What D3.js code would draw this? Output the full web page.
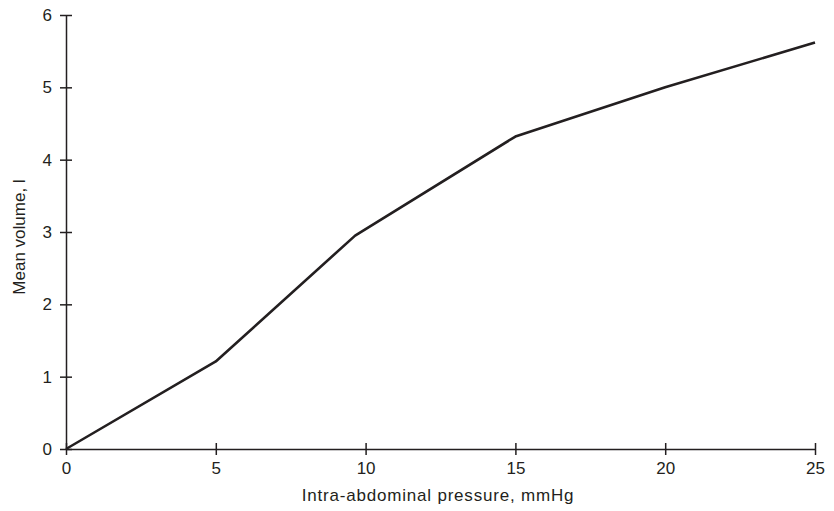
<!DOCTYPE html>
<html>
<head>
<meta charset="utf-8">
<script src="https://cdn.jsdelivr.net/npm/d3@7"></script>
<style>
  body { margin: 0; background: #fff; }
  svg text { font-family: "Liberation Sans", Arial, sans-serif; fill: #231f20; }
  .axis path, .axis line { stroke: #231f20; stroke-width: 1.5; }
</style>
</head>
<body>
<svg id="chart" width="834" height="511"></svg>
<script>
// values
var pressure = [0, 5, 9.65, 15, 20, 25];
var volume = [0, 1.21, 2.95, 4.32, 5.0, 5.62];
var xTicks = [0, 5, 10, 15, 20, 25];
var yTicks = [0, 1, 2, 3, 4, 5, 6];

var data = pressure.map(function (p, i) { return { p: p, v: volume[i] }; });

var svg = d3.select('svg#chart');

var x = d3.scaleLinear().domain([0, 25]).range([66, 815]);
var y = d3.scaleLinear().domain([0, 6]).range([449, 15]);

var xAxis = svg.append('g')
    .attr('class', 'axis')
    .attr('transform', 'translate(0,' + y(0) + ')')
    .call(d3.axisBottom(x).tickValues(xTicks).tickFormat(d3.format('d'))
        .tickSizeInner(6).tickSizeOuter(0).tickPadding(7));
xAxis.selectAll('.tick line').attr('y1', -6);
xAxis.selectAll('text').attr('font-size', 17);

var yAxis = svg.append('g')
    .attr('class', 'axis')
    .attr('transform', 'translate(' + x(0) + ',0)')
    .call(d3.axisLeft(y).tickValues(yTicks).tickFormat(d3.format('d'))
        .tickSizeInner(6).tickSizeOuter(0).tickPadding(8));
yAxis.selectAll('.tick line').attr('x1', 6);
yAxis.selectAll('text').attr('font-size', 17);

var line = d3.line()
    .x(function (d) { return x(d.p); })
    .y(function (d) { return y(d.v); });

svg.append('path')
    .datum(data)
    .attr('fill', 'none')
    .attr('stroke', '#231f20')
    .attr('stroke-width', 2.6)
    .attr('stroke-linejoin', 'round')
    .attr('d', line);

svg.append('text')
    .attr('x', 438)
    .attr('y', 501)
    .attr('text-anchor', 'middle')
    .attr('font-size', 17)
    .attr('letter-spacing', 0.8)
    .text('Intra-abdominal pressure, mmHg');

svg.append('text')
    .attr('transform', 'translate(25,237) rotate(-90)')
    .attr('text-anchor', 'middle')
    .attr('font-size', 17)
    .text('Mean volume, l');
</script>
</body>
</html>
